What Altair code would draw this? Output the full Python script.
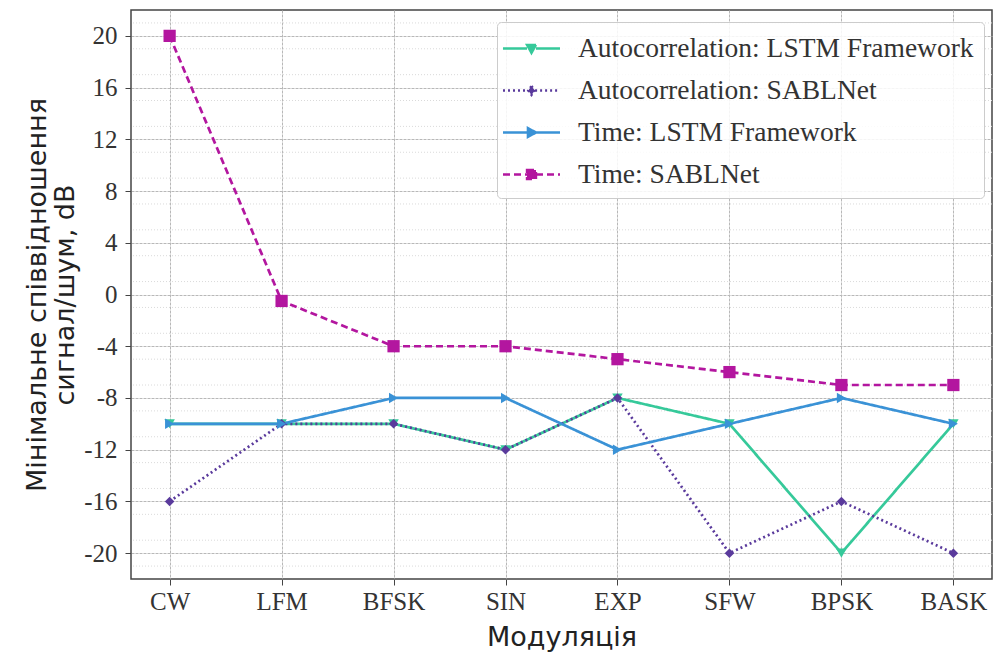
import altair as alt
import pandas as pd

categories = ["CW", "LFM", "BFSK", "SIN", "EXP", "SFW", "BPSK", "BASK"]
series_names = [
    "Autocorrelation: LSTM Framework",
    "Autocorrelation: SABLNet",
    "Time: LSTM Framework",
    "Time: SABLNet",
]
auto_lstm = [-10, -10, -10, -12, -8, -10, -20, -10]
auto_sabl = [-16, -10, -10, -12, -8, -20, -16, -20]
time_lstm = [-10, -10, -8, -8, -12, -10, -8, -10]
time_sabl = [20, -0.5, -4, -4, -5, -6, -7, -7]

colors = ["#36c99a", "#5a3a9c", "#3a92d6", "#b3169f"]
dashes = [[1, 0], [2, 3], [1, 0], [7, 4]]
shapes = ["triangle-down", "diamond", "triangle-right", "square"]
sizes = [110, 90, 110, 150]
legend_shapes = [
    "M-1.9,0H-0.3M0.3,0H1.9M-0.3,-0.24L0.3,-0.24L0,0.3Z",
    "M-1.9,0H-0.24M0.24,0H1.9M0,-0.3L0.22,0L0,0.3L-0.22,0Z",
    "M-1.9,0H-0.3M0.3,0H1.9M-0.24,-0.3L0.3,0L-0.24,0.3Z",
    "M-1.9,0H-0.3M0.3,0H1.9M-0.3,-0.3H0.3V0.3H-0.3Z",
]

rows = []
for name, vals in zip(series_names, [auto_lstm, auto_sabl, time_lstm, time_sabl]):
    for i, v in enumerate(vals):
        rows.append({"series": name, "idx": i, "value": v})
df = pd.DataFrame(rows)

label_expr = "[" + ",".join(f"'{c}'" for c in categories) + "][datum.value]"

x_enc = alt.X(
    "idx:Q",
    scale=alt.Scale(domain=[-0.345, 7.345], nice=False, zero=False),
    axis=alt.Axis(
        values=list(range(len(categories))),
        labelExpr=label_expr,
        title="Модуляція",
        grid=True,
    ),
)
y_enc = alt.Y(
    "value:Q",
    scale=alt.Scale(domain=[-22, 22], nice=False, zero=False),
    axis=alt.Axis(
        values=list(range(-20, 21, 2)),
        labelExpr="datum.value % 4 == 0 ? datum.value : ''",
        title=["Мінімальне співвідношення", "сигнал/шум, dB"],
        grid=True,
    ),
)

color_scale = alt.Scale(domain=series_names, range=colors)
dash_scale = alt.Scale(domain=series_names, range=dashes)
legend_shape_scale = alt.Scale(domain=series_names, range=legend_shapes)

leg = alt.Legend(
    title=None,
    orient="none",
    legendX=366,
    legendY=12,
)

minor_vals = pd.DataFrame({"v": [v for v in range(-21, 22) if v % 2 != 0]})
minor = alt.Chart(minor_vals).mark_rule(
    color="#dadada", strokeDash=[1, 2], strokeWidth=1
).encode(y=alt.Y("v:Q", scale=alt.Scale(domain=[-22, 22], nice=False)))

series_layers = []
for name, col, dsh in zip(series_names, colors, dashes):
    base = alt.Chart(df).transform_filter(alt.datum.series == name)
    series_layers.append(
        base.mark_line(strokeWidth=2.7, color=col, strokeDash=dsh).encode(x=x_enc, y=y_enc)
    )
for name, col, shp, sz in zip(series_names, colors, shapes, sizes):
    base = alt.Chart(df).transform_filter(alt.datum.series == name)
    series_layers.append(
        base.mark_point(filled=True, opacity=1, shape=shp, size=sz, color=col).encode(x=x_enc, y=y_enc)
    )

# legend-only layer: no marks drawn, entries come from the explicit scale domain
legend_layer = (
    alt.Chart(df)
    .transform_filter("false")
    .mark_point(filled=True, strokeWidth=2.4)
    .encode(
        x=x_enc,
        y=y_enc,
        color=alt.Color("series:N", scale=color_scale, legend=leg),
        stroke=alt.Stroke("series:N", scale=color_scale, legend=leg),
        strokeDash=alt.StrokeDash("series:N", scale=dash_scale, legend=leg),
        shape=alt.Shape("series:N", scale=legend_shape_scale, legend=leg),
    )
)

chart = (
    alt.layer(minor, *series_layers, legend_layer)
    .properties(
        width=861,
        height=569,
        autosize=alt.AutoSizeParams(type="none"),
        padding={"left": 123, "top": 2, "right": 2, "bottom": 78},
    )
    .configure_view(stroke="#444444", strokeWidth=1.5)
    .configure_axis(
        gridColor="#b8b8b8",
        gridWidth=1,
        gridDash=[3, 1],
        domain=False,
        tickColor="#444444",
        tickSize=6,
        labelFont="Liberation Serif",
        labelFontSize=25,
        labelColor="#333333",
        titleFont="DejaVu Sans",
        titleFontSize=27,
        titleFontWeight="normal",
        titleColor="#222222",
    )
    .configure_axisX(labelPadding=4, titlePadding=10)
    .configure_axisY(labelPadding=8, titlePadding=4, titleLineHeight=28)
    .configure_legend(
        labelFont="Liberation Serif",
        labelFontSize=27.5,
        labelColor="#333333",
        labelLimit=600,
        fillColor="rgba(255,255,255,0.85)",
        strokeColor="#cccccc",
        cornerRadius=4,
        padding=10,
        rowPadding=12,
        symbolSize=900,
        symbolOffset=8,
        symbolStrokeWidth=2.4,
        symbolOpacity=1,
        labelOffset=30,
    )
)

chart.save("out.html", embed_options={"renderer": "svg", "actions": False})
